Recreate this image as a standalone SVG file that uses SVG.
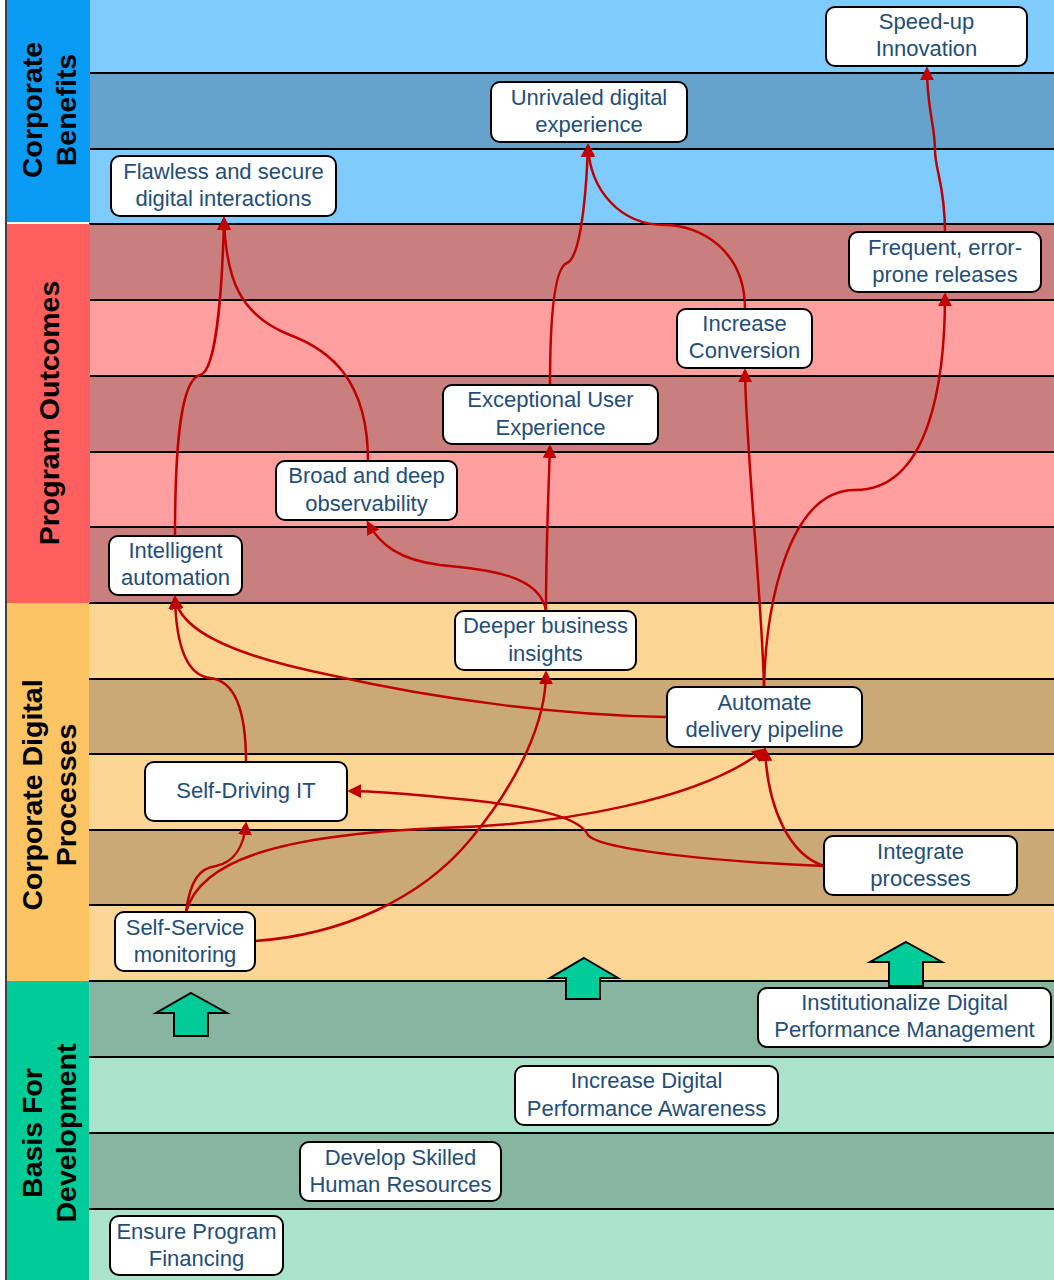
<svg xmlns="http://www.w3.org/2000/svg" width="1054" height="1280" viewBox="0 0 1054 1280">
<defs>
<style>
.sep{stroke:#000;stroke-width:2}
.hdr{font-family:"Liberation Sans",Arial,sans-serif;font-weight:bold;font-size:28.5px;fill:#000;text-anchor:middle}
.box{fill:#fff;stroke:#000;stroke-width:2}
.lbl{font-family:"Liberation Sans",Arial,sans-serif;font-size:22px;fill:#1F4E79;text-anchor:middle}
.con{fill:none;stroke:#C00000;stroke-width:2.5;marker-end:url(#ah)}
.up{fill:#00CC99;stroke:#000;stroke-width:2}
</style>
<marker id="ah" viewBox="0 0 10 10" refX="8" refY="5" markerWidth="5.5" markerHeight="5.5" orient="auto" markerUnits="strokeWidth">
<path d="M0,0 L10,5 L0,10 z" fill="#C00000"/>
</marker>
</defs>
<rect width="1054" height="1280" fill="#fff"/>
<g id="bands">
<rect x="89" y="0" width="965" height="73" fill="#7FCBFD"/>
<rect x="89" y="73" width="965" height="76" fill="#65A3CC"/>
<rect x="89" y="149" width="965" height="75" fill="#7FCBFD"/>
<rect x="89" y="224" width="965" height="76" fill="#CA7F7F"/>
<rect x="89" y="300" width="965" height="76" fill="#FF9F9F"/>
<rect x="89" y="376" width="965" height="76" fill="#CA7F7F"/>
<rect x="89" y="452" width="965" height="75" fill="#FF9F9F"/>
<rect x="89" y="527" width="965" height="76" fill="#CA7F7F"/>
<rect x="89" y="603" width="965" height="76" fill="#FDD696"/>
<rect x="89" y="679" width="965" height="75" fill="#CAA977"/>
<rect x="89" y="754" width="965" height="76" fill="#FDD696"/>
<rect x="89" y="830" width="965" height="75" fill="#CAA977"/>
<rect x="89" y="905" width="965" height="76" fill="#FDD696"/>
<rect x="89" y="981" width="965" height="76" fill="#88B59F"/>
<rect x="89" y="1057" width="965" height="76" fill="#AAE2CB"/>
<rect x="89" y="1133" width="965" height="76" fill="#88B59F"/>
<rect x="89" y="1209" width="965" height="71" fill="#AAE2CB"/>
<line class="sep" x1="89" y1="73" x2="1054" y2="73"/>
<line class="sep" x1="89" y1="149" x2="1054" y2="149"/>
<line class="sep" x1="89" y1="224" x2="1054" y2="224"/>
<line class="sep" x1="89" y1="300" x2="1054" y2="300"/>
<line class="sep" x1="89" y1="376" x2="1054" y2="376"/>
<line class="sep" x1="89" y1="452" x2="1054" y2="452"/>
<line class="sep" x1="89" y1="527" x2="1054" y2="527"/>
<line class="sep" x1="89" y1="603" x2="1054" y2="603"/>
<line class="sep" x1="89" y1="679" x2="1054" y2="679"/>
<line class="sep" x1="89" y1="754" x2="1054" y2="754"/>
<line class="sep" x1="89" y1="830" x2="1054" y2="830"/>
<line class="sep" x1="89" y1="905" x2="1054" y2="905"/>
<line class="sep" x1="89" y1="981" x2="1054" y2="981"/>
<line class="sep" x1="89" y1="1057" x2="1054" y2="1057"/>
<line class="sep" x1="89" y1="1133" x2="1054" y2="1133"/>
<line class="sep" x1="89" y1="1209" x2="1054" y2="1209"/>
</g>
<g id="headers">
<rect x="7" y="0" width="83" height="222" fill="#0A9BF5"/>
<rect x="7" y="224" width="83" height="379" fill="#FF5F5F"/>
<rect x="7" y="603" width="82" height="378" fill="#FCC463"/>
<rect x="7" y="981" width="82" height="299" fill="#00CC99"/>
<line x1="6" y1="0" x2="6" y2="1280" stroke="#000" stroke-width="1.5"/>
<text class="hdr" transform="translate(42,110) rotate(-90)"><tspan x="0" y="0">Corporate</tspan><tspan x="0" y="34">Benefits</tspan></text>
<text class="hdr" transform="translate(59,413) rotate(-90)">Program Outcomes</text>
<text class="hdr" transform="translate(42,795) rotate(-90)"><tspan x="0" y="0">Corporate Digital</tspan><tspan x="0" y="34">Processes</tspan></text>
<text class="hdr" transform="translate(42,1133) rotate(-90)"><tspan x="0" y="0">Basis For</tspan><tspan x="0" y="34">Development</tspan></text>
</g>
<g id="big-arrows">
<path class="up" d="M191,993 L227,1013 L208,1013 L208,1036 L174,1036 L174,1013 L156,1013 Z"/>
<path class="up" d="M584,958 L618,978 L600,978 L600,999 L566,999 L566,978 L550,978 Z"/>
<path class="up" d="M906,942 L942,962 L923,962 L923,986 L889,986 L889,962 L870,962 Z"/>
</g>
<g id="connectors">
<path class="con" d="M945,232 C945,185 935,170 935,150 C935,125 927,110 927,69"/>
<path class="con" d="M745,309 C745,250 700,225 665,225 C620,225 590,190 588,146"/>
<path class="con" d="M550,385 C550,330 553,268 567,263 C580,258 586,200 588,146"/>
<path class="con" d="M368,461 C368,380 330,350 290,335 C240,315 226,280 224,219"/>
<path class="con" d="M175,536 C175,450 180,380 200,375 C215,372 222,300 224,219"/>
<path class="con" d="M764,687 C766,600 790,490 855,490 C930,490 945,380 945,295"/>
<path class="con" d="M764,687 C762,600 746,450 745,371"/>
<path class="con" d="M546,611 C546,560 548,500 550,447"/>
<path class="con" d="M546,611 C540,575 490,570 440,565 C400,560 380,545 368,523"/>
<path class="con" d="M667,717 C560,715 440,700 330,675 C230,655 180,630 175,598"/>
<path class="con" d="M246,762 C246,700 230,680 210,678 C185,675 176,640 175,598"/>
<path class="con" d="M186,912 C190,880 200,868 216,866 C235,862 244,845 246,824"/>
<path class="con" d="M186,912 C200,860 280,835 440,828 C560,825 700,800 764,750"/>
<path class="con" d="M255,941 C340,935 420,900 470,840 C520,780 546,720 546,673"/>
<path class="con" d="M824,866 C720,862 600,850 588,835 C580,818 540,808 470,800 C420,795 380,791 350,791"/>
<path class="con" d="M824,866 C790,855 768,810 765,750"/>
</g>
<g id="n-speedup"><rect class="box" x="826" y="7" width="201" height="59" rx="9"/><text class="lbl" x="926.5" y="29">Speed-up</text><text class="lbl" x="926.5" y="56">Innovation</text></g>
<g id="n-unrivaled"><rect class="box" x="491" y="82" width="196" height="60" rx="9"/><text class="lbl" x="589" y="105">Unrivaled digital</text><text class="lbl" x="589" y="132">experience</text></g>
<g id="n-flawless"><rect class="box" x="111" y="156" width="225" height="60" rx="9"/><text class="lbl" x="223.5" y="179">Flawless and secure</text><text class="lbl" x="223.5" y="206">digital interactions</text></g>
<g id="n-frequent"><rect class="box" x="849" y="232" width="192" height="60" rx="9"/><text class="lbl" x="945" y="255">Frequent, error-</text><text class="lbl" x="945" y="282">prone releases</text></g>
<g id="n-conversion"><rect class="box" x="677" y="309" width="135" height="59" rx="9"/><text class="lbl" x="744.5" y="331">Increase</text><text class="lbl" x="744.5" y="358">Conversion</text></g>
<g id="n-ux"><rect class="box" x="443" y="385" width="215" height="59" rx="9"/><text class="lbl" x="550.5" y="407">Exceptional User</text><text class="lbl" x="550.5" y="435">Experience</text></g>
<g id="n-observability"><rect class="box" x="276" y="461" width="181" height="59" rx="9"/><text class="lbl" x="366.5" y="483">Broad and deep</text><text class="lbl" x="366.5" y="511">observability</text></g>
<g id="n-intelligent"><rect class="box" x="109" y="536" width="133" height="59" rx="9"/><text class="lbl" x="175.5" y="558">Intelligent</text><text class="lbl" x="175.5" y="585">automation</text></g>
<g id="n-insights"><rect class="box" x="455" y="611" width="181" height="59" rx="9"/><text class="lbl" x="545.5" y="633">Deeper business</text><text class="lbl" x="545.5" y="661">insights</text></g>
<g id="n-pipeline"><rect class="box" x="667" y="687" width="195" height="60" rx="9"/><text class="lbl" x="764.5" y="710">Automate</text><text class="lbl" x="764.5" y="737">delivery pipeline</text></g>
<g id="n-selfdriving"><rect class="box" x="145" y="762" width="202" height="59" rx="9"/><text class="lbl" x="246" y="798">Self-Driving IT</text></g>
<g id="n-integrate"><rect class="box" x="824" y="836" width="193" height="59" rx="9"/><text class="lbl" x="920.5" y="859">Integrate</text><text class="lbl" x="920.5" y="886">processes</text></g>
<g id="n-selfservice"><rect class="box" x="115" y="912" width="140" height="59" rx="9"/><text class="lbl" x="185" y="935">Self-Service</text><text class="lbl" x="185" y="962">monitoring</text></g>
<g id="n-institutionalize"><rect class="box" x="758" y="988" width="293" height="59" rx="9"/><text class="lbl" x="904.5" y="1010">Institutionalize Digital</text><text class="lbl" x="904.5" y="1037">Performance Management</text></g>
<g id="n-awareness"><rect class="box" x="515" y="1066" width="263" height="59" rx="9"/><text class="lbl" x="646.5" y="1088">Increase Digital</text><text class="lbl" x="646.5" y="1116">Performance Awareness</text></g>
<g id="n-skilled"><rect class="box" x="300" y="1142" width="201" height="59" rx="9"/><text class="lbl" x="400.5" y="1165">Develop Skilled</text><text class="lbl" x="400.5" y="1192">Human Resources</text></g>
<g id="n-financing"><rect class="box" x="110" y="1216" width="173" height="59" rx="9"/><text class="lbl" x="196.5" y="1239">Ensure Program</text><text class="lbl" x="196.5" y="1266">Financing</text></g>
</svg>
